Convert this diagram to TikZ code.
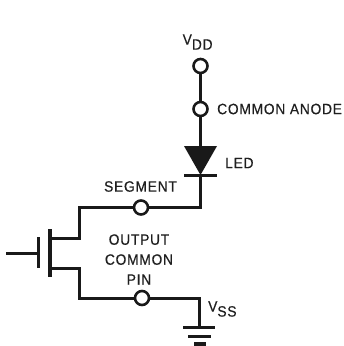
\documentclass[tikz,border=0pt]{standalone}
\usepackage{fontspec}
\setmainfont{Liberation Sans}
\newfontfamily\lblfont[FakeStretch=0.92,LetterSpace=5,FakeBold=0.5]{Liberation Sans}
\tikzset{
  wire/.style={line width=3pt,line cap=rect,color=black!90},
  pin/.style={circle,draw=black!90,line width=2.6pt,fill=white,minimum size=14pt,inner sep=0pt},
  lbl/.style={inner sep=0pt,font=\lblfont\fontsize{15}{20}\selectfont,align=center,color=black!88}
}
\begin{document}
\begin{tikzpicture}[x=1pt,y=-1pt]
\useasboundingbox (0,0) rectangle (344,346);
% pins
\node[pin] (vdd) at (200.5,66) {};
\node[pin] (anode) at (200.5,109) {};
\node[pin] (seg) at (141,207.5) {};
\node[pin] (com) at (142,298) {};
% corners
\coordinate (ledtop) at (200.5,146);
\coordinate (ledbot) at (200.5,175);
\coordinate (segr) at (200.5,207.5);
\coordinate (segl) at (79.5,207.5);
\coordinate (drain) at (79.5,238);
\coordinate (draing) at (50,238);
\coordinate (source) at (79.5,268);
\coordinate (sourceg) at (50,268);
\coordinate (coml) at (79.5,298);
\coordinate (comr) at (199.5,298);
\coordinate (gnd) at (199.5,327);
\coordinate (gate) at (6,253);
\coordinate (gatep) at (38,253);
% wires
\draw[wire] (vdd) -- (anode);
\draw[wire] (anode) -- (ledtop);
\draw[wire] (ledbot) -- (segr) -- (seg);
\draw[wire] (seg) -- (segl) -- (drain) -- (draing);
\draw[wire] (sourceg) -- (source) -- (coml) -- (com);
\draw[wire] (com) -- (comr) -- (gnd);
\draw[wire,line cap=butt] (gate) -- (gatep);
% led
\fill[black!90] (184,146) -- (217,146) -- (200.5,175) -- cycle;
\draw[wire,line cap=butt] (184,175) -- (217,175);
% mosfet
\draw[wire,line cap=butt,line width=3.6pt] (50,229) -- (50,277);
\draw[wire,line cap=butt] (38,237) -- (38,268);
% ground
\draw[wire,line cap=butt] (183,327) -- (215,327);
\draw[wire,line cap=butt] (188,336) -- (211,336);
\draw[wire,line cap=butt,line width=4pt] (194,344) -- (206,344);
% labels
\node[lbl,anchor=west] (vddt) at (182.5,42) {V\raisebox{-5pt}{DD}};
\node[lbl,anchor=west] (anodet) at (217,109) {COMMON ANODE};
\node[lbl,anchor=west] (ledt) at (225,163) {LED};
\node[lbl] (segt) at (140.5,186.5) {SEGMENT};
\node[lbl] (pint) at (139,259.5) {OUTPUT\\COMMON\\PIN};
\node[lbl,anchor=west] (vsst) at (208,309) {V\raisebox{-5pt}{SS}};
\end{tikzpicture}
\end{document}
